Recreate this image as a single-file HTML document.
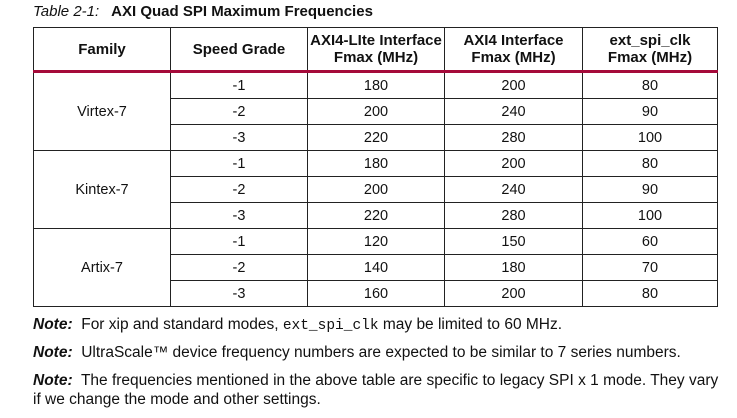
<!DOCTYPE html><html><head><style>
body{margin:0;width:737px;height:418px;background:#fff;font-family:"Liberation Sans",sans-serif;color:#111;position:relative;overflow:hidden}
.cap{position:absolute;left:33px;top:3px;font-size:15px}
.cap i{margin-right:12px}
table{position:absolute;left:33px;top:27px;border-collapse:collapse;font-size:14.5px}
td,th{border:1px solid #222;text-align:center;padding:0;height:25px}
th{height:42px;font-size:15px;line-height:17px;border-bottom:3px solid #a50a3a;white-space:nowrap}
.n{position:absolute;left:33px;font-size:15.5px;width:710px;line-height:19px;white-space:nowrap}
.m{font-family:"Liberation Mono",monospace;font-size:14.5px}
</style></head><body>
<div class="cap"><i>Table 2-1:</i><b>AXI Quad SPI Maximum Frequencies</b></div>
<table>
<colgroup><col style="width:137px"><col style="width:137px"><col style="width:137px"><col style="width:138px"><col style="width:135px"></colgroup>
<tr><th>Family</th><th>Speed Grade</th><th>AXI4-LIte Interface<br>Fmax (MHz)</th><th>AXI4 Interface<br>Fmax (MHz)</th><th>ext_spi_clk<br>Fmax (MHz)</th></tr>
<tr><td rowspan=3>Virtex-7</td><td>-1</td><td>180</td><td>200</td><td>80</td></tr>
<tr><td>-2</td><td>200</td><td>240</td><td>90</td></tr>
<tr><td>-3</td><td>220</td><td>280</td><td>100</td></tr>
<tr><td rowspan=3>Kintex-7</td><td>-1</td><td>180</td><td>200</td><td>80</td></tr>
<tr><td>-2</td><td>200</td><td>240</td><td>90</td></tr>
<tr><td>-3</td><td>220</td><td>280</td><td>100</td></tr>
<tr><td rowspan=3>Artix-7</td><td>-1</td><td>120</td><td>150</td><td>60</td></tr>
<tr><td>-2</td><td>140</td><td>180</td><td>70</td></tr>
<tr><td>-3</td><td>160</td><td>200</td><td>80</td></tr>
</table>
<div class="n" style="top:315px"><b><i>Note:</i></b>&nbsp; For xip and standard modes, <span class="m">ext_spi_clk</span> may be limited to 60 MHz.</div>
<div class="n" style="top:343px"><b><i>Note:</i></b>&nbsp; UltraScale™ device frequency numbers are expected to be similar to 7 series numbers.</div>
<div class="n" style="top:371px"><b><i>Note:</i></b>&nbsp; The frequencies mentioned in the above table are specific to legacy SPI x 1 mode. They vary<br>if we change the mode and other settings.</div>
</body></html>
